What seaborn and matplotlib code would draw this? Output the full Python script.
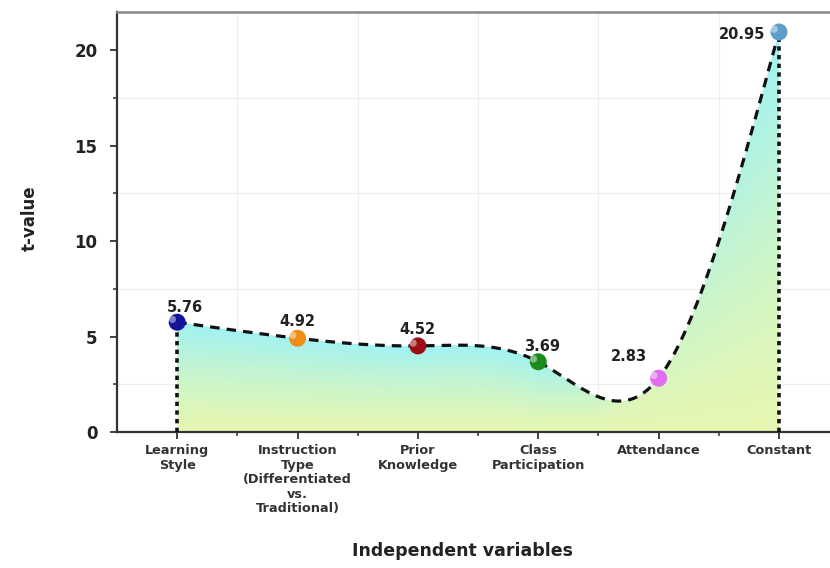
import numpy as np
import pandas as pd
import matplotlib.pyplot as plt
import seaborn as sns
from matplotlib.colors import to_rgb

# Data
variables = ['Learning\nStyle', 'Instruction\nType\n(Differentiated\nvs.\nTraditional)',
             'Prior\nKnowledge', 'Class\nParticipation', 'Attendance', 'Constant']
t_values = [5.76, 4.92, 4.52, 3.69, 2.83, 20.95]
marker_colors = ['#14149a', '#f08c18', '#9c0e14', '#1c8a1c', '#e06cf0', '#5c9ec8']
value_labels = ['5.76', '4.92', '4.52', '3.69', '2.83', '20.95']


def natural_spline(y, n=400):
    # natural cubic spline on unit-spaced knots
    y = np.asarray(y, float)
    k = len(y)
    A = np.zeros((k, k))
    b = np.zeros(k)
    A[0, 0] = A[-1, -1] = 1
    for i in range(1, k - 1):
        A[i, i - 1:i + 2] = [1, 4, 1]
        b[i] = 6 * (y[i + 1] - 2 * y[i] + y[i - 1])
    M = np.linalg.solve(A, b)
    xs = np.linspace(0, k - 1, n)
    idx = np.clip(xs.astype(int), 0, k - 2)
    t = xs - idx
    ys = ((1 - t) * y[idx] + t * y[idx + 1]
          + ((1 - t) ** 3 - (1 - t)) * M[idx] / 6 + (t ** 3 - t) * M[idx + 1] / 6)
    return xs, ys


df = pd.DataFrame({'x': np.arange(len(t_values)), 't': t_values, 'var': variables})
xs, ys = natural_spline(t_values)
curve = pd.DataFrame({'x': xs, 't': ys})

sns.set_theme(style='white')
plt.rcParams['font.family'] = ['DejaVu Sans']
plt.rcParams['font.weight'] = 'bold'

fig = plt.figure(figsize=(8.3, 5.68), dpi=100)
ax = fig.add_axes([0.141, 0.239, 0.87, 0.74])

# gradient fill under the curve (cyan near the top, pale yellow-green at the bottom)
poly = ax.fill_between(xs, 0, ys, color='none', lw=0)
gx = np.linspace(0, 5, 500)
gy = np.linspace(0, 22, 300)
GX, GY = np.meshgrid(gx, gy)
envelope = np.maximum(np.interp(gx, xs, ys),
                      np.interp(gx, [0, 3, 3.5, 5], [t_values[0], t_values[3], t_values[3], t_values[5]]))
frac = np.clip(GY / envelope[None, :], 0, 1)
c_top = np.array(to_rgb('#a0f2f4'))
c_bot = np.array(to_rgb('#e6f7b2'))
img = c_bot + (c_top - c_bot) * frac[..., None] ** 1.3
im = ax.imshow(img, extent=[0, 5, 0, 22], origin='lower', aspect='auto', zorder=1)
im.set_clip_path(poly.get_paths()[0], transform=ax.transData)

sns.lineplot(data=curve, x='x', y='t', ax=ax, color='#111111', lw=2.3,
             linestyle=(0, (3, 2.2)), zorder=3)
ax.vlines([0, 5], 0, [t_values[0], t_values[-1]], colors='#111111', lw=2.6,
          linestyles=(0, (1.2, 1.2)), zorder=3)

sns.scatterplot(data=df, x='x', y='t', hue='var', palette=marker_colors, s=150,
                edgecolor='none', legend=False, ax=ax, zorder=4)
ax.scatter(df['x'] - 0.04, df['t'] + 0.15, s=28, color='white', alpha=0.45,
           edgecolor='none', zorder=5)

offsets = [(0.06, 0.75), (0.0, 0.9), (0.0, 0.85), (0.03, 0.8), (-0.25, 1.15), (-0.31, -0.15)]
for x, t, lab, (dx, dy) in zip(df['x'], t_values, value_labels, offsets):
    ax.text(x + dx, t + dy, lab, ha='center', va='center', fontsize=10.5,
            fontweight='bold', color='#222222', zorder=6)

ax.set_xlim(-0.5, 5.5)
ax.set_ylim(0, 22)
ax.set_xticks(range(len(variables)))
ax.set_xticklabels(variables, fontsize=9.3, fontweight='bold', color='#333333',
                   va='top', linespacing=1.15)
ax.set_yticks([0, 5, 10, 15, 20])
ax.set_yticklabels(['0', '5', '10', '15', '20'], fontsize=12, fontweight='bold',
                   color='#222222')
ax.set_xticks(np.arange(0.5, 5.5, 1), minor=True)
ax.set_yticks(np.arange(2.5, 22, 5), minor=True)
ax.tick_params(axis='both', which='major', direction='out', length=5, width=1.3,
               color='#333333', bottom=True, left=True)
ax.tick_params(axis='y', which='major', pad=9)
ax.tick_params(axis='both', which='minor', direction='out', length=3, width=1.1,
               color='#333333', bottom=True, left=True)
ax.grid(True, which='minor', color='#eeeeee', lw=0.8)
ax.set_axisbelow(True)

for side in ['left', 'bottom']:
    ax.spines[side].set_color('#333333')
    ax.spines[side].set_linewidth(1.6)
ax.spines['top'].set_color('#888888')
ax.spines['top'].set_linewidth(1.8)
ax.spines['right'].set_visible(False)

ax.set_xlabel('Independent variables', fontsize=12.5, fontweight='bold',
              color='#222222')
ax.xaxis.set_label_coords(0.478, -0.262)
ax.set_ylabel('t-value', fontsize=12, fontweight='bold', color='#222222')
ax.yaxis.set_label_coords(-0.109, 0.51)

fig.savefig('out.png', dpi=100)
